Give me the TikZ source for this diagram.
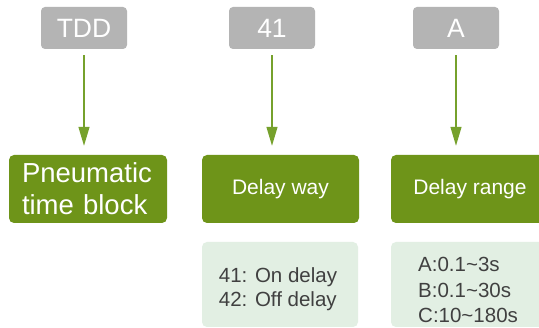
\documentclass[tikz,border=0pt]{standalone}
\usepackage{fontspec}
\setmainfont{Liberation Sans}
\usetikzlibrary{arrows.meta}
\definecolor{codegray}{HTML}{B4B4B4}
\definecolor{boxgreen}{HTML}{6E9419}
\definecolor{lightgreen}{HTML}{E2EFE3}
\definecolor{arrowgreen}{HTML}{76A12C}
\definecolor{desctext}{HTML}{404040}
\tikzset{
  codebox/.style={fill=codegray, rounded corners=4pt, minimum width=86pt, minimum height=42pt,
    text=white, font=\fontsize{26.5}{30}\selectfont, inner sep=0pt},
  catbox/.style={fill=boxgreen, rounded corners=5pt, minimum height=68pt,
    text=white, inner sep=0pt},
  descbox/.style={fill=lightgreen, rounded corners=5pt, minimum height=85pt, inner sep=0pt},
  desctxt/.style={text=desctext, font=\fontsize{20.5}{24.5}\selectfont, align=left, inner sep=0pt},
  flow/.style={draw=arrowgreen, line width=1.2pt, -{Triangle[length=19pt,width=11pt]},
    shorten <=6pt, shorten >=9pt}
}
\begin{document}
\begin{tikzpicture}[x=1pt,y=-1pt]
\clip (0,0) rectangle (539,328);
\fill[white] (0,0) rectangle (539,328);
% code boxes
\node[codebox] (tdd) at (84,28) {TDD};
\node[codebox] (c41) at (272,28) {41};
\node[codebox] (ca) at (456,28) {A};
% category boxes
\node[catbox, minimum width=158pt, text width=132pt, align=left,
  font=\fontsize{27.5}{32}\selectfont] (pne) at (88,189) {Pneumatic\\time block};
\node[catbox, minimum width=157pt, font=\fontsize{21}{25}\selectfont] (way) at (280.5,189) {Delay way};
\node[catbox, minimum width=158pt, font=\fontsize{21}{25}\selectfont] (rng) at (470,189) {Delay range};
% description boxes
\node[descbox, minimum width=156pt] (wayd) at (280,284.5) {};
\node[descbox, minimum width=158pt] (rngd) at (470,284.5) {};
\node[desctxt, anchor=center] (wayt) at (278,289) {41: On delay\\42: Off delay};
\node[desctxt, anchor=west, font=\fontsize{20.5}{25.5}\selectfont] (rngt) at (418,290) {A:0.1\textasciitilde3s\\B:0.1\textasciitilde30s\\C:10\textasciitilde180s};
% arrows
\draw[flow] (tdd.south) -- (tdd.south |- pne.north);
\draw[flow] (c41.south) -- (c41.south |- way.north);
\draw[flow] (ca.south) -- (ca.south |- rng.north);
\end{tikzpicture}
\end{document}
